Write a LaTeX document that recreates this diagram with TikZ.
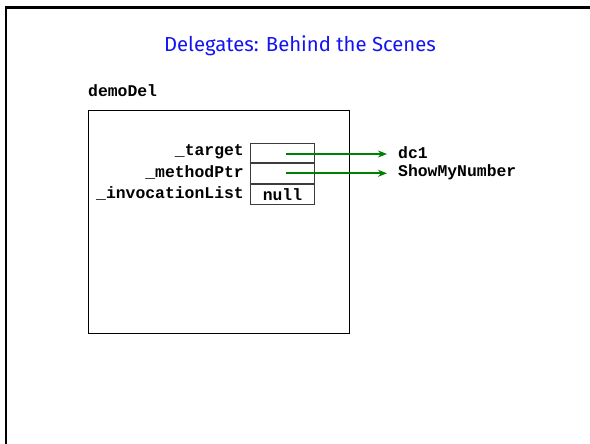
\documentclass[tikz,border=0pt]{standalone}
\usepackage{fontspec}
\setmainfont{Liberation Serif}
\newfontfamily\codefont{Liberation Mono}
\newfontfamily\titlefont{Fira Sans}
\usetikzlibrary{arrows.meta}
\definecolor{titleblue}{RGB}{20,20,240}
\definecolor{ptrgreen}{RGB}{0,128,0}
\definecolor{boxgray}{RGB}{60,60,60}
\tikzset{
  code/.style={font=\codefont\bfseries\fontsize{16.4}{18}\selectfont, inner sep=0pt},
  field/.style={draw=boxgray, line width=1pt, minimum width=64pt, minimum height=19.7pt, inner sep=0pt},
  pointer/.style={draw=ptrgreen, line width=2pt, -{Stealth[length=9pt,width=7pt]}},
}
\begin{document}
\begin{tikzpicture}[x=1pt,y=-1pt]
  \useasboundingbox (0,0) rectangle (590,444);
  % slide frame (runs off the right and bottom edges)
  \draw[line width=2.2pt] (5.8,446) -- (5.8,7.5) -- (592,7.5);
  % title
  \node[text=titleblue, font=\titlefont\fontsize{20.3}{24}\selectfont, inner sep=0pt] (title) at (300,46) {Delegates: Behind the Scenes};
  % delegate object
  \node[code, anchor=base west] (name) at (88,97) {demoDel};
  \node[draw=black, line width=1.1pt, minimum width=261pt, minimum height=223pt, inner sep=0pt, anchor=north west] (obj) at (88,110) {};
  % fields
  \node[field, anchor=north west] (f1) at (250,142.7) {};
  \node[field, anchor=north] (f2) at (f1.south) {};
  \node[field, anchor=north] (f3) at (f2.south) {\codefont\bfseries\fontsize{16.4}{18}\selectfont null};
  \node[code, anchor=east] (l1) at ([xshift=-6pt,yshift=1pt]f1.west) {\_target};
  \node[code, anchor=east] (l2) at ([xshift=-6pt,yshift=1pt]f2.west) {\_methodPtr};
  \node[code, anchor=east] (l3) at ([xshift=-6pt,yshift=1pt]f3.west) {\_invocationList};
  % pointer targets
  \node[code, anchor=west] (t1) at (398,153) {dc1};
  \node[code, anchor=west] (t2) at (398,172.5) {ShowMyNumber};
  \coordinate (s1) at (286,154);
  \coordinate (s2) at (286,173.3);
  \draw[pointer] (s1) -- ([xshift=-11pt]s1 -| t1.west);
  \draw[pointer] (s2) -- ([xshift=-11pt]s2 -| t2.west);
\end{tikzpicture}
\end{document}
